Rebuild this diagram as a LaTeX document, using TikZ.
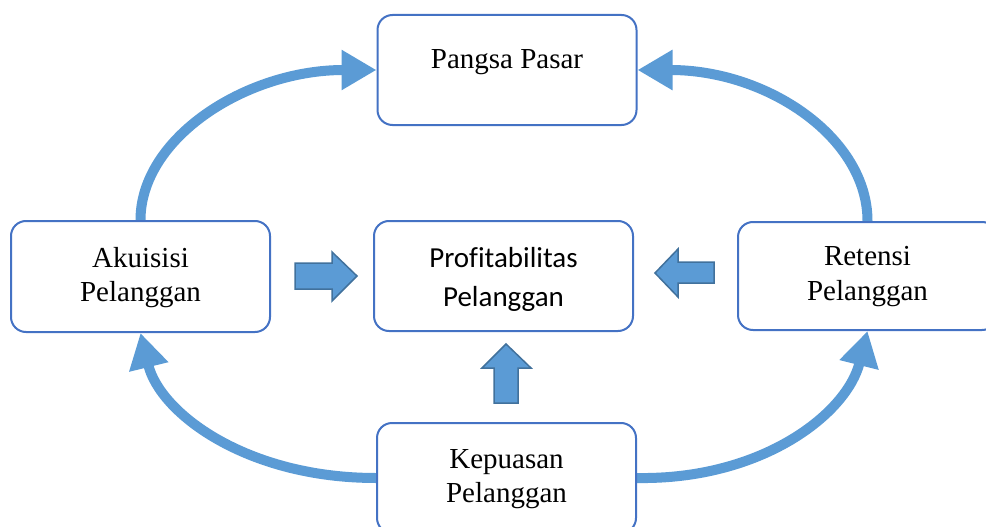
\documentclass[tikz,border=0pt]{standalone}
\usepackage{fontspec}
\setmainfont{Liberation Serif}
\newfontfamily\calibrifont[Ligatures=NoCommon]{Carlito}
\usetikzlibrary{arrows.meta,backgrounds}
\definecolor{boxline}{HTML}{4472C4}
\definecolor{flow}{HTML}{5B9BD5}
\definecolor{blockedge}{HTML}{41719C}
\begin{document}
\begin{tikzpicture}[x=1pt,y=-1pt,
  box/.style={draw=boxline, line width=2pt, rounded corners=15pt, fill=white,
              minimum width=259pt, minimum height=110pt, inner sep=0pt},
  lbl/.style={anchor=base, inner sep=0pt, font=\fontsize{29}{35}\selectfont},
  slbl/.style={anchor=base, inner sep=0pt, font=\calibrifont\fontsize{29}{39}\selectfont},
  cyc/.style={draw=flow, line width=10pt, -{Triangle[length=35pt,width=38pt]}},
  blk/.style={fill=flow, draw=blockedge, line width=1.5pt, line join=miter}]
\useasboundingbox (0,0) rectangle (986,527);
\clip (0,0) rectangle (986,527);

% boxes
\node[box] (pangsa) at (507,70) {};
\node[box, minimum height=111pt] (akuisisi) at (140.5,276.5) {};
\node[box] (profit) at (503.5,276) {};
\node[box, minimum height=108pt] (retensi) at (867.5,276) {};
\node[box] (kepuasan) at (506.5,478) {};

% labels
\node[lbl] (t1) at (507,69) {Pangsa Pasar};
\node[lbl] (t2) at (140.5,267) {Akuisisi};
\node[lbl] (t3) at (140.5,301) {Pelanggan};
\node[slbl] (t4) at (503.5,267) {Profitabilitas};
\node[slbl] (t5) at (503.5,306) {Pelanggan};
\node[lbl] (t6) at (867.5,265) {Retensi};
\node[lbl] (t7) at (867.5,300) {Pelanggan};
\node[lbl] (t8) at (506.5,468) {Kepuasan};
\node[lbl] (t9) at (506.5,502) {Pelanggan};

% cycle arrows
\begin{scope}[on background layer]
\draw[cyc] (akuisisi.north) .. controls (140.5,138) and (246,70) .. (pangsa.west);
\draw[cyc] (retensi.north) .. controls (867.5,138) and (768,70) .. (pangsa.east);
\draw[cyc] (kepuasan.west) .. controls (246,478) and (160,413) .. (akuisisi.south);
\draw[cyc] (kepuasan.east) .. controls (763,480) and (847,413) .. (retensi.south);
\end{scope}

% block arrows into the centre box
\draw[blk] (295,263) -- (332,263) -- (332,252) -- (357,276) -- (332,301)
  -- (332,289) -- (295,289) -- cycle;
\draw[blk] (714,262) -- (678,262) -- (678,249) -- (655,273) -- (678,297)
  -- (678,283) -- (714,283) -- cycle;
\draw[blk] (494,403) -- (494,368) -- (482,368) -- (506,344) -- (531,368)
  -- (518,368) -- (518,403) -- cycle;
\end{tikzpicture}
\end{document}
